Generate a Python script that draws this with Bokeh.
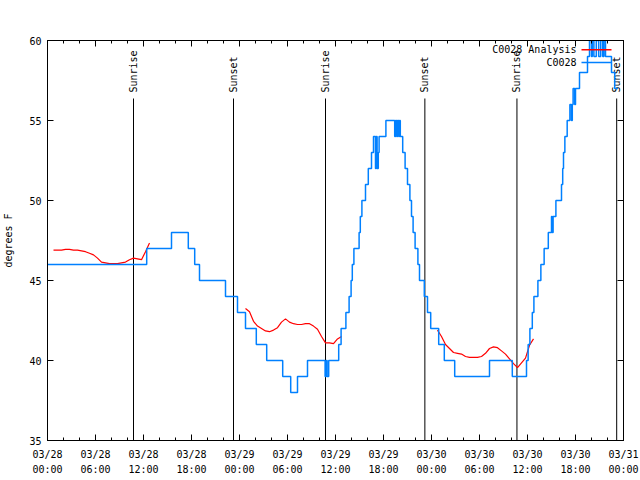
import pandas as pd
from math import pi
from bokeh.plotting import figure
from bokeh.models import (FixedTicker, DatetimeTickFormatter, DatetimeAxis, LinearAxis,
                          Label, Range1d, ColumnDataSource, CustomJSTickFormatter)
from bokeh.embed import file_html
from bokeh.resources import INLINE
from bokeh.core.properties import value

FONT = "DejaVu Sans Mono"
FS = "10px"
BLUE = "#0080ff"
RED = "#ff0000"

START = pd.Timestamp("2024-03-28 00:00")
END = pd.Timestamp("2024-03-31 00:00")

chart_title = "Temperature for C0028 on 2024-Mar-28 (time in UTC)"
y_title = "degrees F"
obs_name = "C0028"
ana_name = "C0028 Analysis"

# Observed temperature (deg F): hours since start where the reading changes, and the new reading
obs_hours = [0.0, 12.4, 15.5, 17.6, 18.4, 19.0, 22.25, 23.75, 24.75, 26.1, 27.4, 29.4, 30.4,
             31.25, 32.5, 34.7, 34.85, 34.95, 35.15, 36.4, 36.7, 37.3, 37.7, 37.95, 38.1,
             38.3, 38.95, 39.1, 39.3, 39.75, 40.1, 40.5, 40.75, 41.0, 41.1, 41.2, 41.35,
             41.45, 42.3, 43.4, 43.5, 43.65, 43.75, 43.9, 44.0, 44.1, 44.4, 44.7, 45.0,
             45.3, 45.5, 45.7, 45.95, 46.3, 46.5, 47.1, 47.5, 47.9, 48.9, 49.6, 50.9,
             55.25, 58.1, 59.875, 60.08, 60.3, 60.6, 60.8, 61.3, 61.67, 62.08, 62.6, 63.0,
             63.1, 63.2, 63.55, 64.25, 64.4, 64.5, 64.67, 64.96, 65.3, 65.5, 65.6, 65.7,
             65.9, 66.0, 66.5, 67.5, 67.75, 68.0, 68.1, 68.3, 68.6, 68.9, 69.15, 69.4,
             69.55, 69.75, 70.5, 70.9, 71.3]
obs_temps = [46, 47, 48, 47, 46, 45, 44, 43, 42, 41, 40, 39, 38,
             39, 40, 39, 40, 39, 40, 41, 42, 43, 44, 45, 46,
             47, 48, 49, 50, 51, 52, 53, 54, 52, 54, 52, 53,
             54, 55, 54, 55, 54, 55, 54, 55, 54, 53, 52, 51,
             50, 49, 48, 47, 46, 45, 44, 43, 42, 41, 40, 39,
             40, 39, 40, 41, 42, 43, 44, 45, 46, 47, 48, 49,
             48, 49, 50, 51, 52, 53, 54, 55, 56, 55, 56, 57,
             56, 57, 58, 59, 60, 59, 60, 59, 60, 59, 60, 59,
             60, 59, 58, 57, 57]

# Analysis temperature (deg F), three 12-hour windows
ana1_hours = [0.75, 1.25, 1.75, 2.25, 2.75, 3.25, 3.75, 4.25, 4.75, 5.25, 5.75, 6.25, 6.75,
              7.25, 7.75, 8.25, 8.75, 9.25, 9.75, 10.25, 10.75, 11.25, 11.75, 12.25, 12.75]
ana1_temps = [46.9, 46.9, 46.9, 46.95, 46.95, 46.9, 46.9, 46.85, 46.8, 46.7, 46.6, 46.4, 46.15,
              46.1, 46.05, 46.05, 46.05, 46.1, 46.15, 46.3, 46.4, 46.35, 46.3, 46.8, 47.35]
ana2_hours = [24.75, 25.25, 25.75, 26.25, 26.75, 27.25, 27.75, 28.25, 28.75, 29.25, 29.75,
              30.25, 30.75, 31.25, 31.75, 32.25, 32.75, 33.25, 33.75, 34.25, 34.75, 35.25,
              35.75, 36.25, 36.75]
ana2_temps = [43.25, 43.05, 42.45, 42.15, 42.0, 41.85, 41.8, 41.9, 42.05, 42.4, 42.6,
              42.4, 42.3, 42.25, 42.25, 42.3, 42.3, 42.15, 41.95, 41.5, 41.1, 41.1,
              41.05, 41.35, 41.5]
ana3_hours = [48.75, 49.25, 49.75, 50.25, 50.75, 51.25, 51.75, 52.25, 52.75, 53.25, 53.75,
              54.25, 54.75, 55.25, 55.75, 56.25, 56.75, 57.25, 57.75, 58.25, 58.75, 59.25,
              59.75, 60.25, 60.75]
ana3_temps = [41.9, 41.5, 41.0, 40.75, 40.5, 40.45, 40.4, 40.25, 40.2, 40.2, 40.2,
              40.25, 40.45, 40.75, 40.85, 40.8, 40.6, 40.4, 40.1, 39.8, 39.55, 39.85,
              40.15, 40.95, 41.35]

sunrise_hours = [10.75, 34.75, 58.68]
sunset_hours = [23.25, 47.17, 71.15]

y_ticks = [35, 40, 45, 50, 55, 60]
x_major_hours = list(range(0, 73, 6))
x_minor_hours = list(range(0, 73, 2))


def to_dt(hours):
    return START + pd.to_timedelta(pd.Series(hours, dtype=float), unit="h")


def to_ms(h):
    return (START + pd.Timedelta(hours=h)).value / 1e6


Y0, Y1 = 35, 60

p = figure(frame_width=576, frame_height=400, x_axis_type="datetime",
           x_range=Range1d(START, END), y_range=Range1d(Y0, Y1),
           output_backend="svg", toolbar_location=None,
           min_border_left=46, min_border_right=18, min_border_top=40, min_border_bottom=40)
p.title.visible = False
p.xgrid.visible = False
p.ygrid.visible = False
p.outline_line_color = "black"
p.outline_line_width = 1
p.background_fill_color = "white"
p.border_fill_color = "white"

xt = FixedTicker(ticks=[to_ms(h) for h in x_major_hours],
                 minor_ticks=[to_ms(h) for h in x_minor_hours])
yt = FixedTicker(ticks=y_ticks, minor_ticks=[])
fmt = "%m/%d\n%H:%M"
xf = DatetimeTickFormatter(microseconds=fmt, milliseconds=fmt, seconds=fmt, minsec=fmt,
                           minutes=fmt, hourmin=fmt, hours=fmt, days=fmt, months=fmt,
                           years=fmt, strip_leading_zeros=False)
blank = CustomJSTickFormatter(code="return '';")


def style_axis(ax, labels, tick_in, minor_in):
    ax.axis_line_color = "black"
    ax.major_tick_line_color = "black"
    ax.minor_tick_line_color = "black"
    ax.major_tick_out = 0
    ax.minor_tick_out = 0
    ax.major_tick_in = tick_in
    ax.minor_tick_in = minor_in
    ax.major_label_text_font = FONT
    ax.major_label_text_color = "black"
    ax.major_label_text_font_size = FS
    if not labels:
        ax.formatter = blank
        ax.major_label_standoff = 0


bx = p.xaxis[0]
bx.ticker = xt
bx.formatter = xf
style_axis(bx, True, 6, 3)
bx.major_label_standoff = 8
bx.major_label_text_line_height = 1.45

ly = p.yaxis[0]
ly.ticker = yt
style_axis(ly, True, 6, 0)
ly.major_label_standoff = 6
ly.axis_label = y_title
ly.axis_label_text_font = FONT
ly.axis_label_text_font_size = FS
ly.axis_label_text_font_style = "normal"
ly.axis_label_text_color = "black"
ly.axis_label_standoff = 12

tx = DatetimeAxis(ticker=xt)
style_axis(tx, False, 6, 3)
p.add_layout(tx, "above")
ry = LinearAxis(ticker=yt)
style_axis(ry, False, 6, 0)
p.add_layout(ry, "right")

# sunrise / sunset markers
line_top = Y0 + 0.855 * (Y1 - Y0)
text_base = Y0 + 0.87 * (Y1 - Y0)
ev_hours = sunrise_hours + sunset_hours
ev_names = ["Sunrise"] * len(sunrise_hours) + ["Sunset"] * len(sunset_hours)
ev = ColumnDataSource(dict(x=to_dt(ev_hours), name=ev_names,
                           y0=[Y0] * len(ev_hours), y1=[line_top] * len(ev_hours),
                           yt=[text_base] * len(ev_hours)))
p.segment(x0="x", y0="y0", x1="x", y1="y1", source=ev, line_color="black", line_width=1)
p.text(x="x", y="yt", text="name", source=ev, angle=pi / 2, text_align="left",
       text_baseline="middle", text_font=value(FONT), text_font_size=FS, text_color="black")

# analysis (red)
for hh, tt in [(ana1_hours, ana1_temps), (ana2_hours, ana2_temps), (ana3_hours, ana3_temps)]:
    p.line(to_dt(hh), tt, line_color=RED, line_width=1.2)

# observations (blue)
p.step(to_dt(obs_hours), obs_temps, mode="after", line_color=BLUE, line_width=1.5)

# key (text left of the sample line, gnuplot style)
key_text_x = 66.125
key_x0, key_x1 = 66.75, 70.5
key_rows = [(ana_name, RED, 59.42), (obs_name, BLUE, 58.62)]
for name, col, yy in key_rows:
    p.line(to_dt([key_x0, key_x1]), [yy, yy], line_color=col, line_width=1.5)
    p.add_layout(Label(x=to_ms(key_text_x), y=yy, text=name, text_align="right",
                       text_baseline="middle", text_font=FONT, text_font_size=FS,
                       text_color="black"))

# title
p.add_layout(Label(x=to_ms(36), y=Y1 + 20 / 16, text=chart_title, text_align="center",
                   text_baseline="middle", text_font=FONT, text_font_size=FS,
                   text_color="black"))

open("out.html", "w").write(file_html(p, INLINE))
